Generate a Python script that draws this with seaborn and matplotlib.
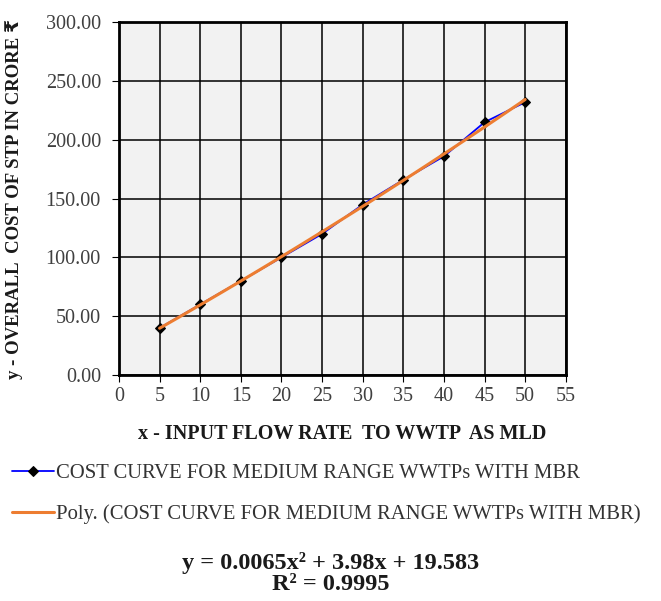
import matplotlib
matplotlib.use('Agg')
import matplotlib.pyplot as plt
import seaborn as sns
import pandas as pd

# data
flow_mld = [5, 10, 15, 20, 25, 30, 35, 40, 45, 50]
cost_crore = [40, 60, 80, 100, 120, 145, 166, 186, 215, 232]

series_label = 'COST CURVE FOR MEDIUM RANGE WWTPs WITH MBR'
trend_label = 'Poly. (COST CURVE FOR MEDIUM RANGE WWTPs WITH MBR)'
equation_text = 'y = 0.0065x² + 3.98x + 19.583\nR² = 0.9995'

df = pd.DataFrame({'x': flow_mld, 'y': cost_crore})

sns.set_style('white')
plt.rcParams['font.family'] = ['Liberation Serif', 'DejaVu Sans']

fig = plt.figure(figsize=(6.61, 6.01), dpi=100)
ax = fig.add_axes([0.18, 0.376, 0.676, 0.587])
ax.set_facecolor('#f2f2f2')

sns.lineplot(data=df, x='x', y='y', ax=ax, color='#0000ff', lw=1.3,
             marker='D', markersize=5, markerfacecolor='black',
             markeredgecolor='black', label=series_label)
sns.regplot(data=df, x='x', y='y', ax=ax, order=2, ci=None, scatter=False,
            truncate=True, line_kws={'color': '#ed7d31', 'lw': 2.2},
            label=trend_label)

ax.set_xlim(0, 55)
ax.set_ylim(0, 300)
ax.set_xticks(range(0, 56, 5))
ax.set_yticks(range(0, 301, 50))
ax.set_yticklabels([f'{v:.2f}' for v in range(0, 301, 50)])
ax.grid(True, color='black', lw=1.1)
ax.set_axisbelow(True)
for s in ax.spines.values():
    s.set_color('black')
    s.set_linewidth(2)
ax.tick_params(axis='both', direction='out', length=5, color='black',
               labelsize=14.5, labelcolor='#404040', bottom=True, left=True)
ax.tick_params(axis='y', pad=8)

ax.set_xlabel('x - INPUT FLOW RATE  TO WWTP  AS MLD', fontsize=14.5,
              fontweight='bold', color='#1a1a1a')
ax.xaxis.set_label_coords(0.5, -0.14)
ax.set_ylabel('y - OVERALL  COST OF STP IN CRORE ₹', fontsize=13.5,
              fontweight='bold', color='#1a1a1a')
ax.yaxis.set_label_coords(-0.215, 0.5)

ax.legend(loc='upper left', bbox_to_anchor=(0.018, 0.228),
          bbox_transform=fig.transFigure, frameon=False,
          fontsize=14.9, handlelength=2.05, handletextpad=0.1, labelspacing=1.0,
          borderaxespad=0, borderpad=0, labelcolor='#333333')

fig.text(0.5, 0.045, equation_text, ha='center', va='center', fontsize=17.5,
         fontweight='bold', linespacing=1.0, color='#1a1a1a')

fig.savefig('out.png', dpi=100)
